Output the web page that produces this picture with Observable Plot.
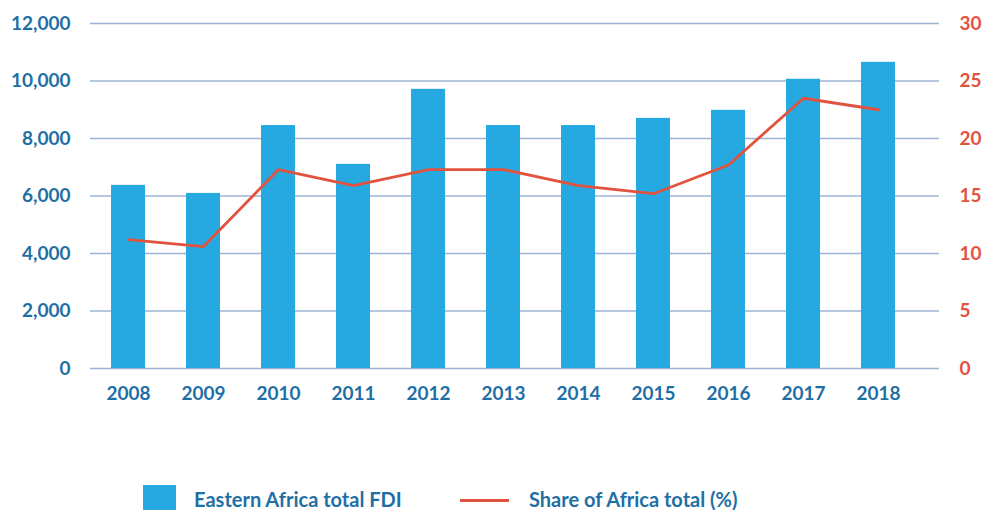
<!DOCTYPE html>
<html>
<head>
<meta charset="utf-8">
<script src="https://cdn.jsdelivr.net/npm/d3@7"></script>
<script src="https://cdn.jsdelivr.net/npm/@observablehq/plot@0.6"></script>
<style>
  html, body { margin: 0; padding: 0; background: #fff; }
  #wrap { position: relative; width: 982px; height: 511px; overflow: hidden; font-family: Lato, "Open Sans", sans-serif; }
  #legend { position: absolute; left: 0; top: 484px; width: 982px; height: 27px; }
  .lg { position: absolute; font-weight: 700; font-size: 20px; color: #1f6fa5; line-height: 20px; white-space: nowrap; }
</style>
</head>
<body>
<div id="wrap">
  <div id="chart"></div>
  <div id="legend">
    <div style="position:absolute;left:143px;top:1px;width:33px;height:25px;background:#25a9e0"></div>
    <div class="lg" id="lg1" style="left:194px;top:4.5px">Eastern Africa total FDI</div>
    <div style="position:absolute;left:460px;top:14.5px;width:49px;height:3px;background:#e2533f"></div>
    <div class="lg" id="lg2" style="left:529px;top:4.5px">Share of Africa total (%)</div>
  </div>
</div>
<script>
const years = ["2008","2009","2010","2011","2012","2013","2014","2015","2016","2017","2018"];
const fdi = [6370, 6090, 8450, 7100, 9710, 8450, 8450, 8700, 8980, 10060, 10650];
const share = [11.2, 10.6, 17.3, 15.9, 17.3, 17.3, 15.9, 15.2, 17.7, 23.5, 22.5];
const leftTicks = [0, 2000, 4000, 6000, 8000, 10000, 12000];
const rightTicks = [0, 5, 10, 15, 20, 25, 30];

const legendLabels = ["Eastern Africa total FDI", "Share of Africa total (%)"];
document.getElementById("lg1").textContent = legendLabels[0];
document.getElementById("lg2").textContent = legendLabels[1];

const ratio = 12000 / 30;
const data = years.map((y, i) => ({year: y, fdi: fdi[i], share: share[i]}));
const blue = "#1f6fa5";
const red = "#e2533f";

const chart = Plot.plot({
  width: 982,
  height: 420,
  marginTop: 23,
  marginBottom: 52,
  marginLeft: 90,
  marginRight: 43,
  style: {fontFamily: "Lato, 'Open Sans', sans-serif", fontSize: "19px", fontWeight: "700", background: "#fff"},
  x: {domain: years, range: [89.5, 915.5], paddingInner: 0.547, paddingOuter: 0.2735, label: null},
  y: {domain: [0, 12000], label: null},
  marks: [
    Plot.ruleY(leftTicks, {stroke: "#9db3d4", strokeWidth: 1.3}),
    Plot.barY(data, {x: "year", y: "fdi", fill: "#25a9e0"}),
    Plot.line(data, {x: "year", y: d => d.share * ratio, stroke: red, strokeWidth: 2.8}),
    Plot.axisX({tickSize: 0, tickPadding: 18, fill: blue, fontWeight: 700, label: null}),
    Plot.axisY({ticks: leftTicks, tickSize: 0, tickPadding: 20, tickFormat: d3.format(","), fill: blue, fontWeight: 700, label: null}),
    Plot.axisY({anchor: "right", ticks: rightTicks.map(v => v * ratio), tickSize: 0, tickPadding: 20, tickFormat: v => String(v / ratio), fill: red, fontWeight: 700, textAnchor: "start", label: null})
  ]
});
document.getElementById("chart").appendChild(chart);
</script>
</body>
</html>
